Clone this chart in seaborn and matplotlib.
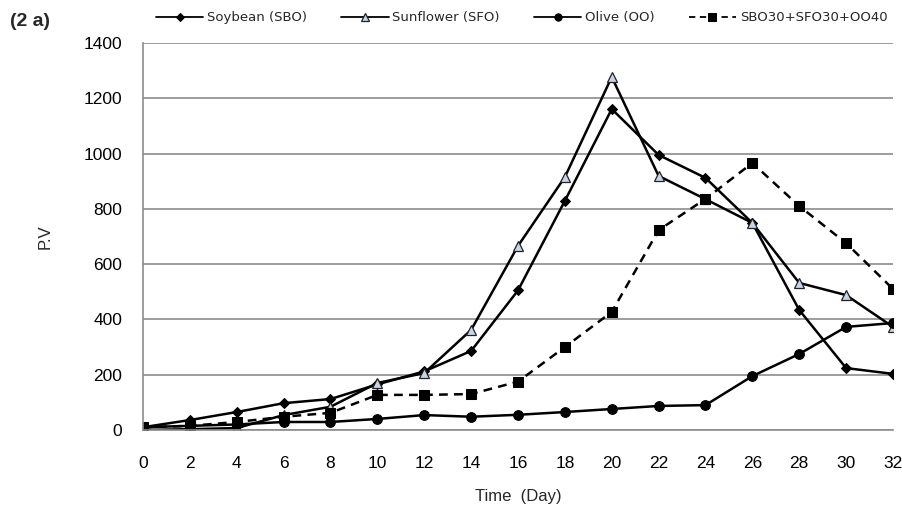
import matplotlib
matplotlib.use("Agg")
import matplotlib.pyplot as plt
import seaborn as sns
import numpy as np

days = [0, 2, 4, 6, 8, 10, 12, 14, 16, 18, 20, 22, 24, 26, 28, 30, 32]
soybean = [10, 36, 65, 97, 112, 165, 212, 286, 505, 829, 1161, 995, 912, 749, 434, 224, 203]
sunflower = [0, 3, 7, 54, 84, 170, 206, 362, 666, 915, 1277, 919, 835, 749, 532, 488, 373]
olive = [10, 15, 20, 29, 29, 40, 54, 48, 55, 65, 76, 87, 90, 195, 275, 373, 387]
blend = [10, 15, 29, 48, 62, 127, 127, 130, 175, 300, 427, 723, 836, 966, 810, 676, 510]

labels = ["Soybean (SBO)", "Sunflower (SFO)", "Olive (OO)", "SBO30+SFO30+OO40"]
yticks = [0, 200, 400, 600, 800, 1000, 1200, 1400]

sns.set_theme(style="white")
plt.rcParams["font.family"] = ["Liberation Sans", "DejaVu Sans"]

fig = plt.figure(figsize=(9.03, 5.08), dpi=100)
ax = fig.add_axes([143 / 903, 1 - 430 / 508, 750 / 903, 387 / 508])

styles = [
    dict(marker="D", markersize=5, markerfacecolor="black", markeredgecolor="black", linestyle="-"),
    dict(marker="^", markersize=7.5, markerfacecolor="#c6d4ea", markeredgecolor="#222222", markeredgewidth=0.9, linestyle="-"),
    dict(marker="o", markersize=7, markerfacecolor="black", markeredgecolor="black", linestyle="-"),
    dict(marker="s", markersize=7, markerfacecolor="black", markeredgecolor="black", linestyle=(0, (3.5, 2.5))),
]

for vals, lab, st in zip([soybean, sunflower, olive, blend], labels, styles):
    sns.lineplot(x=days, y=vals, ax=ax, color="black", linewidth=1.8, label=lab, **st)

ax.set_xlim(0, 32)
ax.set_ylim(0, 1400)
ax.set_xticks(days)
ax.set_yticks(yticks)
ax.tick_params(axis="both", labelsize=12.5, colors="#444444", length=5, width=1,
               direction="out", labelcolor="black")
ax.tick_params(axis="x", pad=14)
ax.tick_params(axis="y", pad=10)
ax.yaxis.grid(True, color="#8c8c8c", linewidth=1.2)
ax.set_axisbelow(True)
for side in ["top", "right"]:
    ax.spines[side].set_visible(False)
for side in ["left", "bottom"]:
    ax.spines[side].set_color("#8c8c8c")
    ax.spines[side].set_linewidth(1.2)

ax.set_xlabel("Time  (Day)", fontsize=12, labelpad=13)
ax.set_ylabel("P.V", fontsize=12, labelpad=22)

leg = ax.legend(loc="lower left", bbox_to_anchor=(0.01, 1.035, 0.99, 0.08), ncol=4,
                frameon=False, prop={"family": "DejaVu Sans", "size": 9.5},
                handlelength=3.6, handletextpad=0.3, markerscale=0.75,
                columnspacing=1.5, borderaxespad=0, mode="expand")
for h in leg.get_lines():
    h.set_linewidth(1.3)

fig.text(10 / 903, 1 - 21 / 508, "(2 a)", fontsize=14, fontweight="bold", va="center", ha="left")

fig.savefig("out.png", dpi=100)
